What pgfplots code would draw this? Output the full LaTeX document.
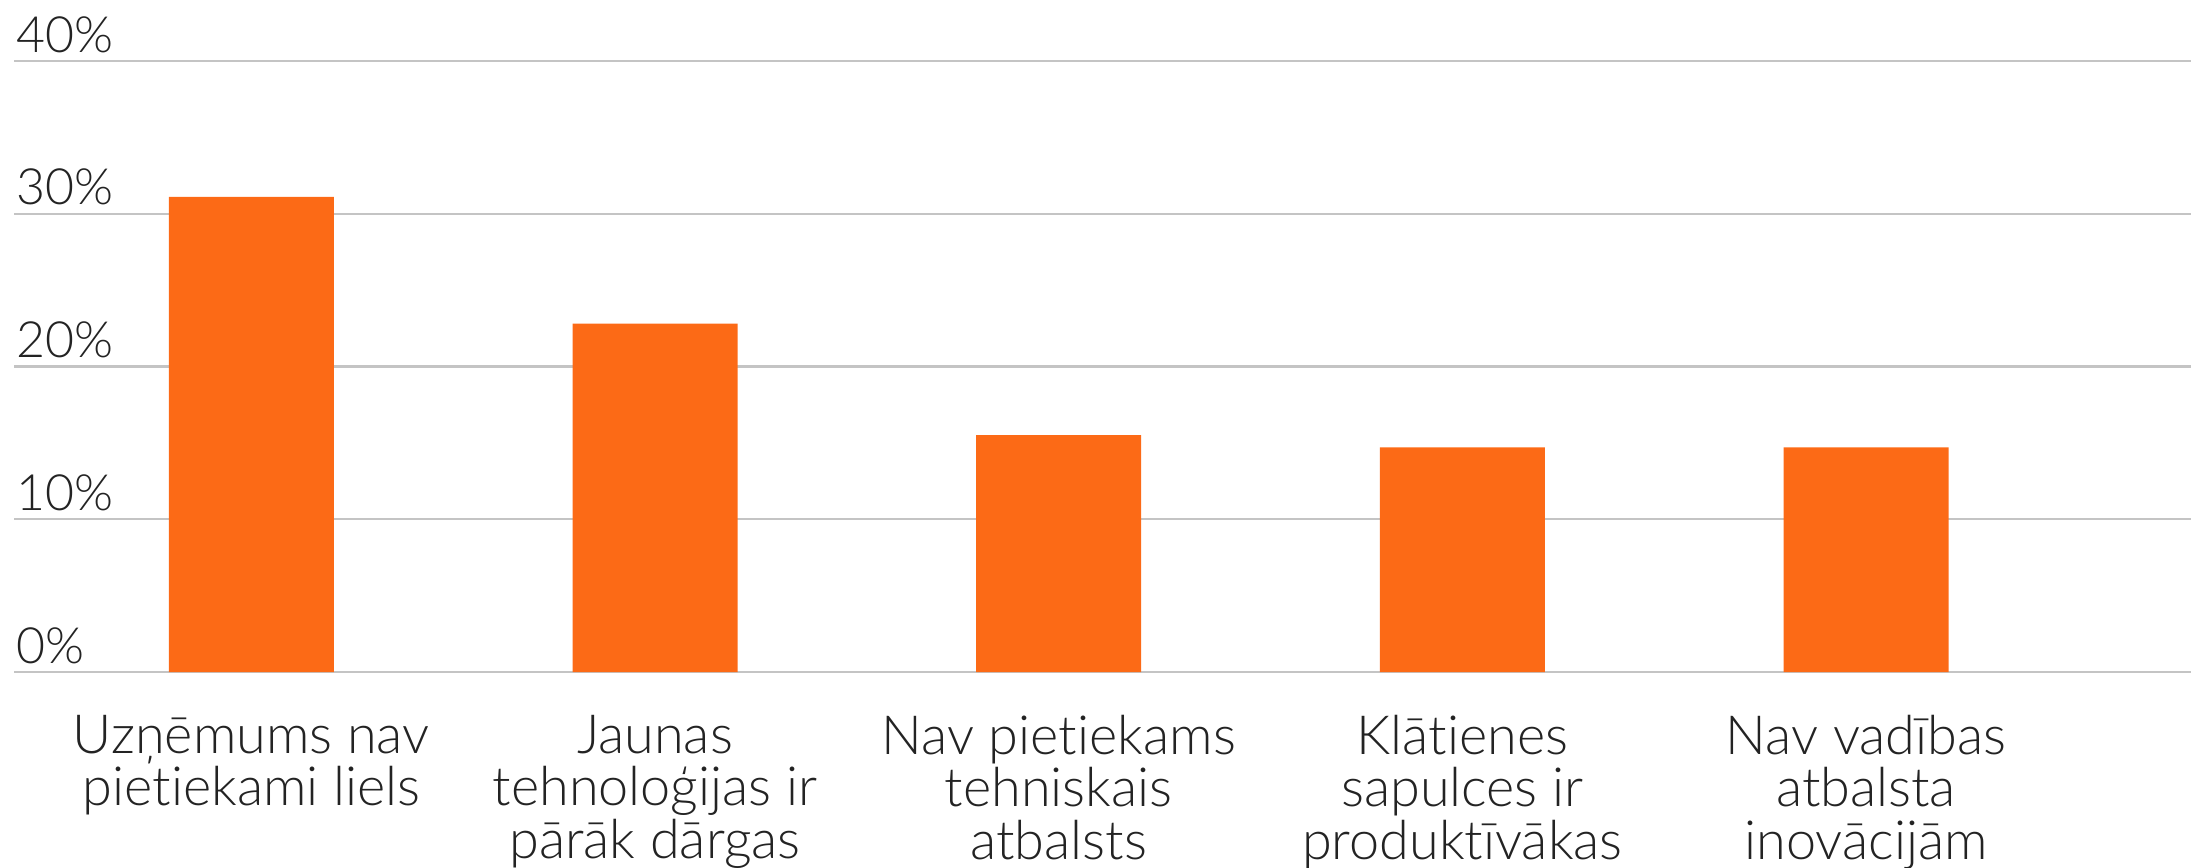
\documentclass[border=0pt]{standalone}
\usepackage{pgfplots}
\pgfplotsset{compat=1.18}
\usepackage{fontspec}
\setmainfont{Lato}[UprightFont={* Light}, Ligatures={NoCommon}]
\definecolor{barorange}{RGB}{252,106,22}
\definecolor{gridgray}{RGB}{196,196,196}
\definecolor{txt}{RGB}{35,35,35}
\begin{document}
\begin{tikzpicture}
\begin{axis}[
  at={(0pt,0pt)}, anchor=south west,
  scale only axis,
  width=544.25pt, height=152.75pt,
  xmin=-0.588, xmax=4.805,
  ymin=0, ymax=40,
  ytick={0,10,20,30,40},
  xtick=data,
  xticklabels={{Uzņēmums nav\\pietiekami liels},{Jaunas\\tehnoloģijas ir\\pārāk dārgas},{Nav pietiekams\\tehniskais\\atbalsts},{Klātienes\\sapulces ir\\produktīvākas},{Nav vadības\\atbalsta\\inovācijām}},
  axis line style={draw=none},
  major tick length=0pt,
  ymajorgrids,
  major grid style={draw=gridgray, line width=0.6pt},
  /pgf/number format/assume math mode=true,
  yticklabel={\pgfmathprintnumber{\tick}\%},
  yticklabel style={anchor=base west, inner sep=0pt, xshift=0.5pt, yshift=2.2pt, font=\fontsize{12.5}{14}\selectfont, text=txt},
  xticklabel style={anchor=north, inner sep=0pt, align=center, yshift=-10.5pt, font=\fontsize{13.5}{13.2}\selectfont, text=txt},
  ybar, bar width=41.25pt,
  clip=false,
]
\addplot[fill=barorange, draw=none] coordinates {(0,31.1) (1,22.8) (2,15.5) (3,14.7) (4,14.7)};
\end{axis}
\pgfresetboundingbox
\path[use as bounding box] (-3.5pt,-48.75pt) rectangle (544.25pt,168pt);
\end{tikzpicture}
\end{document}
